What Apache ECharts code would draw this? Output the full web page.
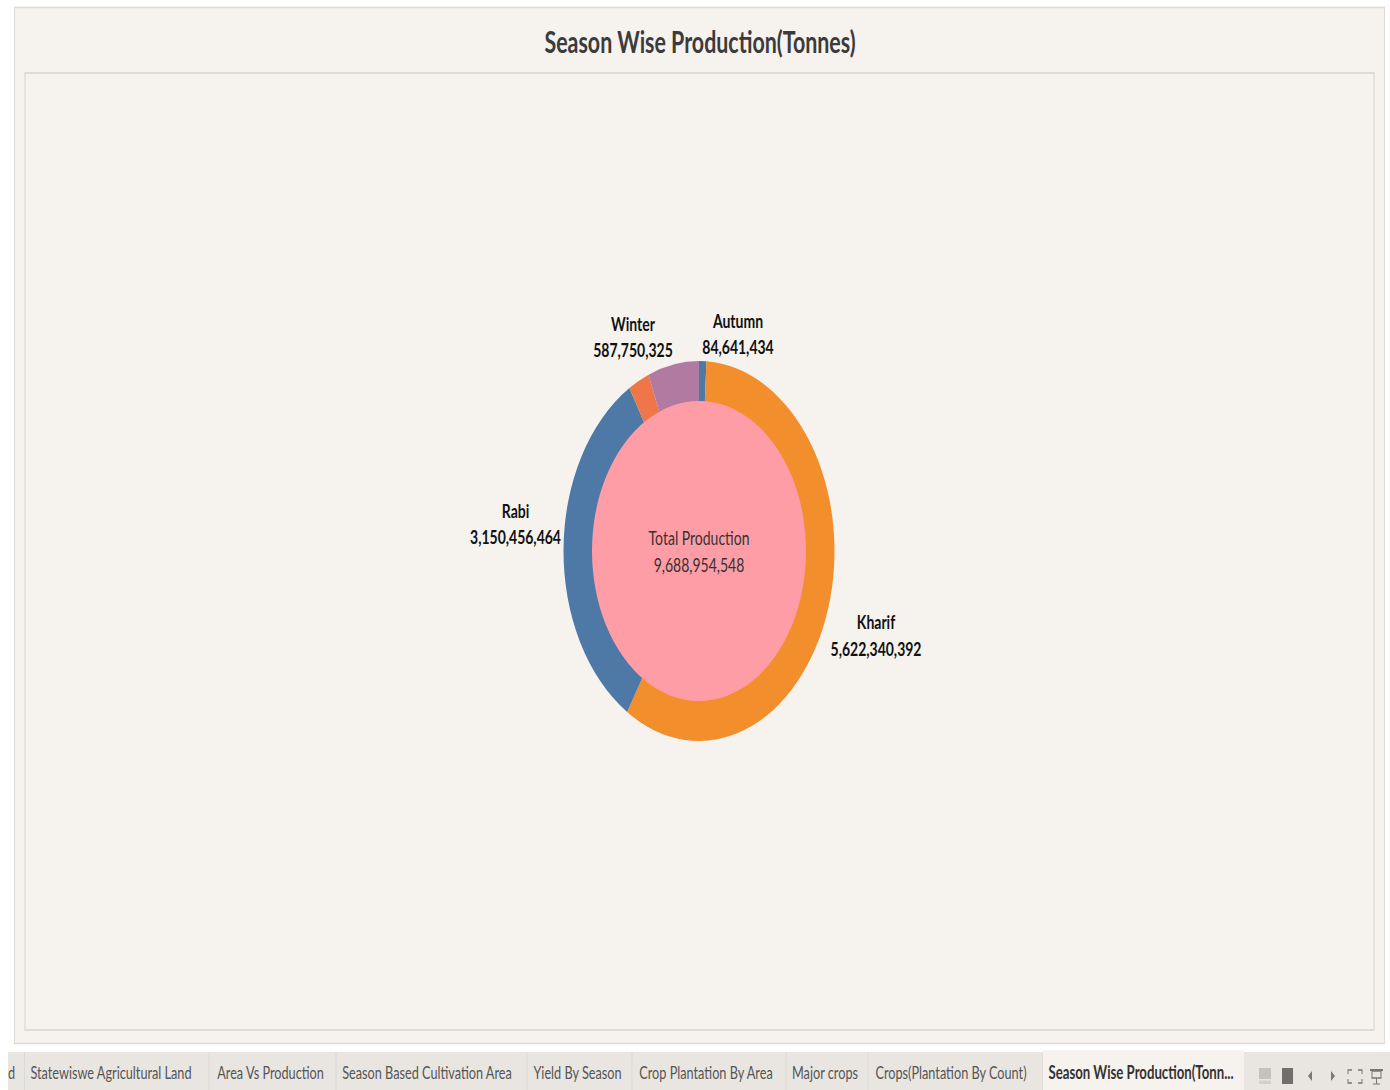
<!DOCTYPE html>
<html>
<head>
<meta charset="utf-8">
<style>
html,body{margin:0;padding:0;background:#fff;overflow:hidden;width:1390px;height:1090px}
#c{width:1390px;height:777.5px;transform:scaleY(1.402);transform-origin:0 0}
</style>
<script src="https://cdn.jsdelivr.net/npm/echarts@6/dist/echarts.min.js"></script>
</head>
<body>
<div id="c"></div>
<script>
const titleText = 'Season Wise Production(Tonnes)';
const seasons = ['Autumn', 'Kharif', 'Rabi', 'Summer', 'Winter'];
const production = [84641434, 5622340392, 3150456464, 243765933, 587750325];
const seasonColors = ['#4e79a7', '#f28e2b', '#4e79a7', '#ee7649', '#b07aa1'];
const unlabelled = ['Summer'];
const totalLabel = 'Total Production';
const totalValue = 9688954548;
const tabNames = ['Statewiswe Agricultural Land', 'Area Vs Production', 'Season Based Cultivation Area', 'Yield By Season', 'Crop Plantation By Area', 'Major crops', 'Crops(Plantation By Count)'];
const activeTab = 'Season Wise Production(Tonn...';

const S = 1.402;
const Y = v => v / S;
const labelAt = {Autumn:[738,333.5], Winter:[633,336.5], Rabi:[515.5,523.5], Kharif:[876,635]};
const tabCenter = [111,270.5,427,577.5,706,825,951];
const tabRight = [209,336,527,632,786,868,1043];

const g = [];
const rect = (x0,y0,x1,y1,fill,stroke) => g.push({type:'rect',silent:true,
  shape:{x:x0,y:Y(y0),width:x1-x0,height:Y(y1-y0)},
  style:{fill:fill,stroke:stroke||null,lineWidth:1,strokeNoScale:true}});
const txt = (x,y,t,font,color,align) => g.push({type:'text',silent:true,x:x,y:Y(y),
  style:{text:t,font:font,fill:color,align:align||'left',verticalAlign:'middle'}});

rect(14.5,7.5,1384.5,1043.5,'#f6f2ee','#dedbd7');
rect(25,73,1374,1030,'#f6f2ee','#d6d3cf');
rect(8,1052,1390,1090,'#e9e6e2');
txt(8,1072,'d','12.7px Lato','#555');
tabNames.forEach((n,i)=>{
  txt(tabCenter[i],1072,n,'12.7px Lato','#555','center');
  rect(tabRight[i]-0.5,1052,tabRight[i]+0.5,1090,'#dcd9d5');
});
rect(24,1052,25,1090,'#dcd9d5');
rect(1043,1050,1244,1090,'#f6f2ee');
txt(1141,1072,activeTab,'bold 13.2px Lato','#333','center');
// footer icons
rect(1259,1068,1271,1079,'#c4c2bf');
rect(1259,1080.5,1271,1084,'#d2d0cd');
rect(1282,1068,1293,1084,'#6f6e6c');
g.push({type:'polygon',silent:true,shape:{points:[[1312,Y(1071)],[1312,Y(1081)],[1308,Y(1076)]]},style:{fill:'#777'}});
g.push({type:'polygon',silent:true,shape:{points:[[1331,Y(1071)],[1331,Y(1081)],[1335,Y(1076)]]},style:{fill:'#777'}});
[[1348,1070,1352,1070,1348,1070,1348,1074],[1362,1070,1358,1070,1362,1070,1362,1074],[1348,1083,1352,1083,1348,1083,1348,1079],[1362,1083,1358,1083,1362,1083,1362,1079]].forEach(p=>{
  g.push({type:'polyline',silent:true,shape:{points:[[p[2],Y(p[3])],[p[0],Y(p[1])],[p[6],Y(p[7])]]},style:{stroke:'#777',lineWidth:1,fill:null}});
});
rect(1370,1069,1383,1071,'#777');
rect(1372,1071,1381,1078,'none','#777');
rect(1376,1078,1377,1084,'#777');
rect(1373,1083.5,1380,1084.5,'#777');

const chart = echarts.init(document.getElementById('c'), null, {renderer:'svg', width:1390, height:777.5});
const comma = v => v.toLocaleString('en-US');
chart.setOption({
  animation:false,
  backgroundColor:'#ffffff',
  title:{text:titleText,left:695,top:Y(34),textAlign:'center',textVerticalAlign:'middle',
    textStyle:{fontFamily:'Lato',fontSize:21.4,fontWeight:'bold',color:'#3b3b3b'}},
  graphic:{elements:g},
  series:[
    {type:'pie',silent:true,center:[699,Y(551)],radius:[106,135.5],startAngle:90,clockwise:true,z:3,
     itemStyle:{borderWidth:0},
     labelLine:{show:false},
     label:{show:true,position:'outside',formatter:p=>p.name+'\n'+comma(p.value),
       fontFamily:'Lato',fontSize:14,fontWeight:'bold',color:'#111',lineHeight:18.7,align:'center'},
     labelLayout:p=>{
       const a = labelAt[seasons[p.dataIndex]];
       return a ? {x:a[0],y:Y(a[1]),align:'center',verticalAlign:'middle'} : {};
     },
     data:seasons.map((n,i)=>({name:n,value:production[i],itemStyle:{color:seasonColors[i]},
       label:{show:!unlabelled.includes(n)}}))},
    {type:'pie',silent:true,center:[699,Y(551)],radius:[0,107],z:4,
     itemStyle:{color:'#ff9da7',borderWidth:0},
     labelLine:{show:false},
     label:{show:true,position:'center',formatter:p=>p.name+'\n'+comma(p.value),
       fontFamily:'Lato',fontSize:14,color:'#333',lineHeight:18.7},
     data:[{name:totalLabel,value:totalValue}]}
  ]
});
</script>
</body>
</html>
